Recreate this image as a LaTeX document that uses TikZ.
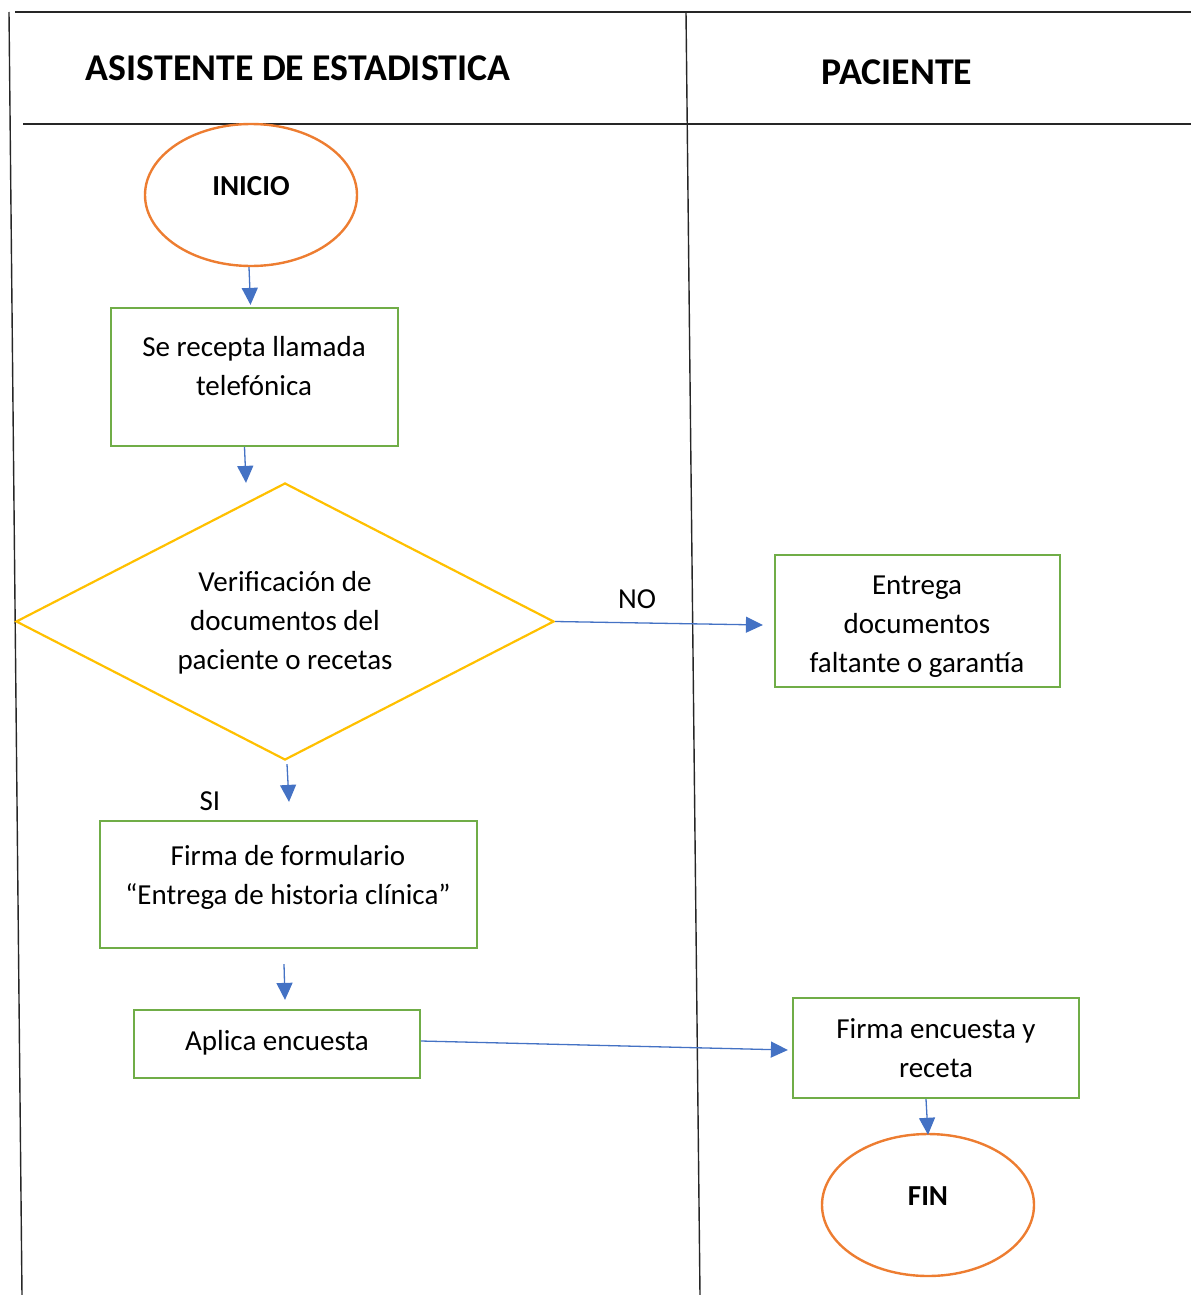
\documentclass[tikz,border=0pt]{standalone}
\usepackage{fontspec}
\setmainfont{Carlito}
\usetikzlibrary{shapes.geometric,arrows.meta}
\definecolor{cOrange}{HTML}{ED7D31}
\definecolor{cGreen}{HTML}{70AD47}
\definecolor{cYellow}{HTML}{FFC000}
\definecolor{cBlue}{HTML}{4472C4}
\definecolor{cLine}{HTML}{262626}
\tikzset{
  lane/.style={draw=cLine,line width=1.4pt},
  procbox/.style={draw=cGreen,line width=2.2pt,rectangle,inner sep=0pt},
  term/.style={draw=cOrange,line width=2.4pt,ellipse,inner sep=0pt},
  decis/.style={draw=cYellow,line width=2.2pt,diamond,inner sep=0pt},
  txt/.style={align=center,font=\fontsize{29}{39}\selectfont,inner sep=0pt},
  btxt/.style={align=center,font=\fontsize{29}{39}\selectfont\bfseries,inner sep=0pt},
  head/.style={font=\fontsize{37.8}{44}\selectfont\bfseries,inner sep=0pt},
  arr/.style={draw=cBlue,line width=1.3pt,-{Triangle[length=17pt,width=16pt]}},
}
\begin{document}
\begin{tikzpicture}[x=1pt,y=-1pt]
\useasboundingbox (0,0) rectangle (1191,1295);
% swimlane frame
\draw[lane] (15,12) -- (1191,12);
\draw[lane] (23,124) -- (1191,124);
\draw[lane] (9,12) -- (22,1295);
\draw[lane] (686,12) -- (700,1295);
\node[head] (h1) at (298,68) {ASISTENTE DE ESTADISTICA};
\node[head] (h2) at (897,72) {PACIENTE};
% shapes
\node[term,minimum width=212pt,minimum height=142pt] (inicio) at (251,195) {};
\node[btxt] (tinicio) at (251,186) {INICIO};
\node[procbox,minimum width=287pt,minimum height=138pt] (b1) at (254.5,377) {};
\node[txt] (tb1) at (254,366.5) {Se recepta llamada\\telefónica};
\node[decis,minimum width=538pt,minimum height=277pt] (dec) at (285,621.5) {};
\node[txt] (tdec) at (285,623) {Verificación de\\documentos del\\paciente o recetas};
\node[procbox,minimum width=285pt,minimum height=132pt] (b2) at (917.5,621) {};
\node[txt] (tb2) at (917,627) {Entrega\\documentos\\faltante o garantía};
\node[procbox,minimum width=377pt,minimum height=127pt] (b3) at (288.5,884.5) {};
\node[txt] (tb3) at (288,877) {Firma de formulario\\“Entrega de historia clínica”};
\node[procbox,minimum width=286pt,minimum height=68pt] (b4) at (277,1044) {};
\node[txt] (tb4) at (277,1043) {Aplica encuesta};
\node[procbox,minimum width=286pt,minimum height=100pt] (b5) at (936,1048) {};
\node[txt] (tb5) at (936,1048) {Firma encuesta y\\receta};
\node[term,minimum width=212pt,minimum height=142pt] (fin) at (928,1205) {};
\node[btxt] (tfin) at (928,1196) {FIN};
% labels
\node[txt] (lno) at (637,599) {NO};
\node[txt] (lsi) at (210,801) {SI};
% connectors
\draw[arr] ([xshift=-2pt]inicio.south) -- ([xshift=-4pt,yshift=2pt]b1.north);
\draw[arr] ([xshift=-10pt]b1.south) -- ([xshift=-39pt,yshift=-1pt]dec.north);
\draw[arr] (dec.east) -- ([xshift=-11pt,yshift=-4pt]b2.west);
\draw[arr] ([xshift=2pt,yshift=-3pt]dec.south) -- ([xshift=0.5pt,yshift=18pt]b3.north);
\draw[arr] ([xshift=-4.5pt,yshift=-15pt]b3.south) -- ([xshift=8pt,yshift=9pt]b4.north);
\draw[arr] ([yshift=3pt]b4.east) -- ([xshift=-4pt,yshift=-2pt]b5.west);
\draw[arr] ([xshift=-10pt]b5.south) -- ([yshift=-2pt]fin.north);
\end{tikzpicture}
\end{document}
